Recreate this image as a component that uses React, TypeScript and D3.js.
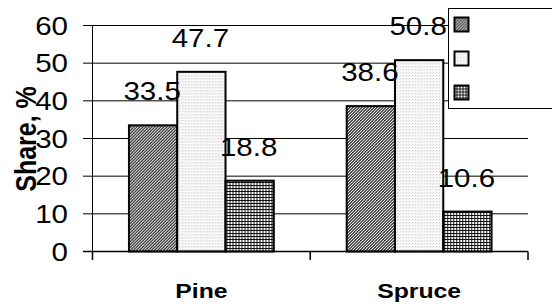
import { useEffect, useRef } from "react";
import * as d3 from "d3";

const categories = ["Pine", "Spruce"];
const seriesKeys = ["s1", "s2", "s3"];
const pineValues = [33.5, 47.7, 18.8];
const spruceValues = [38.6, 50.8, 10.6];
const yTicks = [0, 10, 20, 30, 40, 50, 60];

const FONT = "'Liberation Sans', Arial, sans-serif";
const STRETCH = 1.18; // the source picture is stretched horizontally

export default function App() {
  const ref = useRef<SVGSVGElement | null>(null);

  useEffect(() => {
    const svg = d3.select(ref.current);
    svg.selectAll("*").remove();

    const left = 92.5;
    const right = 528;
    const y = d3.scaleLinear().domain([0, 60]).range([251.5, 25.5]);
    const x0 = d3.scaleBand().domain(categories).range([left, right]).padding(0);
    const x1 = d3
      .scaleBand()
      .domain(seriesKeys)
      .range([0, x0.bandwidth()])
      .paddingInner(0)
      .paddingOuter(0.755);

    const rows = [pineValues, spruceValues];

    // patterns
    const defs = svg.append("defs");
    const p1 = defs.append("pattern").attr("id", "p1").attr("patternUnits", "userSpaceOnUse").attr("width", 3).attr("height", 3);
    p1.append("rect").attr("width", 3).attr("height", 3).attr("fill", "#fff");
    [0, 1, 2].forEach((i) => {
      p1.append("rect").attr("x", i).attr("y", 2 - i).attr("width", 1).attr("height", 1).attr("fill", "#111");
      p1.append("rect").attr("x", (i + 1) % 3).attr("y", 2 - i).attr("width", 1).attr("height", 1).attr("fill", "#777");
    });
    const p2 = defs.append("pattern").attr("id", "p2").attr("patternUnits", "userSpaceOnUse").attr("width", 3).attr("height", 3);
    p2.append("rect").attr("width", 3).attr("height", 3).attr("fill", "#fafafa");
    p2.append("rect").attr("x", 0).attr("y", 0).attr("width", 1).attr("height", 1).attr("fill", "#c8c8c8");
    p2.append("rect").attr("x", 2).attr("y", 1).attr("width", 1).attr("height", 1).attr("fill", "#dcdcdc");
    const p3 = defs.append("pattern").attr("id", "p3").attr("patternUnits", "userSpaceOnUse").attr("width", 3).attr("height", 3);
    p3.append("rect").attr("width", 3).attr("height", 3).attr("fill", "#111");
    p3.append("rect").attr("x", 0).attr("y", 0).attr("width", 2).attr("height", 2).attr("fill", "#fff");
    const fills = ["url(#p1)", "url(#p2)", "url(#p3)"];

    // gridlines and y ticks
    svg
      .append("g")
      .selectAll("line")
      .data(yTicks.filter((t) => t > 0))
      .join("line")
      .attr("x1", left)
      .attr("x2", right)
      .attr("y1", (d) => y(d))
      .attr("y2", (d) => y(d))
      .attr("stroke", "#000")
      .attr("stroke-width", 1);

    svg
      .append("g")
      .selectAll("line")
      .data(yTicks)
      .join("line")
      .attr("x1", 83)
      .attr("x2", left)
      .attr("y1", (d) => y(d))
      .attr("y2", (d) => y(d))
      .attr("stroke", "#000");

    svg
      .append("g")
      .selectAll("text")
      .data(yTicks)
      .join("text")
      .attr("transform", (d) => `translate(68,${y(d)}) scale(${STRETCH},1)`)
      .attr("text-anchor", "end")
      .attr("dy", "0.36em")
      .attr("font-family", FONT)
      .attr("font-size", 25)
      .text((d) => d);

    // bars
    const groups = svg
      .append("g")
      .selectAll("g")
      .data(categories)
      .join("g")
      .attr("transform", (d) => `translate(${x0(d)},0)`);

    groups
      .selectAll("rect")
      .data((_, i) => rows[i].map((v, j) => ({ key: seriesKeys[j], v, j })))
      .join("rect")
      .attr("x", (d) => x1(d.key)!)
      .attr("y", (d) => y(d.v))
      .attr("width", x1.bandwidth())
      .attr("height", (d) => y(0) - y(d.v))
      .attr("fill", (d) => fills[d.j])
      .attr("stroke", "#000")
      .attr("stroke-width", 2);

    groups
      .selectAll("text")
      .data((_, i) => rows[i].map((v, j) => ({ key: seriesKeys[j], v })))
      .join("text")
      .attr("transform", (d) => `translate(${x1(d.key)! + x1.bandwidth() / 2 - 1},${y(d.v) - 25}) scale(${STRETCH},1)`)
      .attr("text-anchor", "middle")
      .attr("font-family", FONT)
      .attr("font-size", 25)
      .text((d) => d.v.toFixed(1));

    // axes lines
    svg.append("line").attr("x1", left).attr("x2", left).attr("y1", y(60)).attr("y2", y(0)).attr("stroke", "#000");
    svg.append("line").attr("x1", 83).attr("x2", right).attr("y1", y(0)).attr("y2", y(0)).attr("stroke", "#000").attr("stroke-width", 1.5);
    svg
      .append("g")
      .selectAll("line")
      .data([left, left + x0.bandwidth(), right])
      .join("line")
      .attr("x1", (d) => d)
      .attr("x2", (d) => d)
      .attr("y1", y(0))
      .attr("y2", 260)
      .attr("stroke", "#000")
      .attr("stroke-width", 1.5);

    // category labels
    svg
      .append("g")
      .selectAll("text")
      .data(categories)
      .join("text")
      .attr("transform", (d) => `translate(${x0(d)! + x0.bandwidth() / 2},298) scale(${STRETCH},1)`)
      .attr("text-anchor", "middle")
      .attr("font-family", FONT)
      .attr("font-weight", "bold")
      .attr("font-size", 21)
      .text((d) => d);

    // y title
    svg
      .append("text")
      .attr("transform", `translate(36,139) scale(${STRETCH},1) rotate(-90)`)
      .attr("text-anchor", "middle")
      .attr("font-family", FONT)
      .attr("font-weight", "bold")
      .attr("font-size", 25)
      .text("Share, %");

    // legend
    const lg = svg.append("g").attr("transform", "translate(448.5,8.5)");
    lg.append("rect").attr("width", 140).attr("height", 100).attr("fill", "#fff").attr("stroke", "#000");
    lg.selectAll("rect.m")
      .data(seriesKeys)
      .join("rect")
      .attr("class", "m")
      .attr("x", 6)
      .attr("y", (_, i) => 9 + i * 34)
      .attr("width", 14)
      .attr("height", 14)
      .attr("fill", (_, i) => fills[i])
      .attr("stroke", "#000")
      .attr("stroke-width", 2);
  }, []);

  return (
    <svg
      ref={ref}
      width={552}
      height={306}
      style={{ position: "absolute", left: 0, top: 0, background: "#fff" }}
    />
  );
}
